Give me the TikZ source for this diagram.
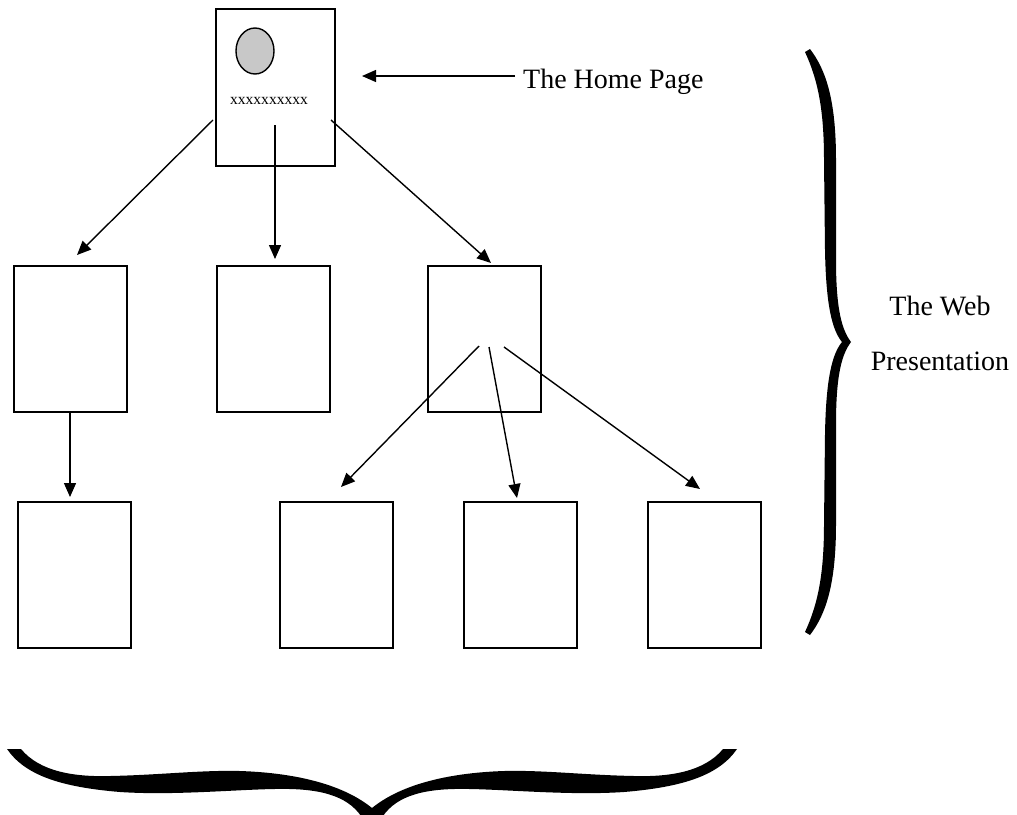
\documentclass[tikz,border=0pt]{standalone}
\usepackage{fontspec}
\setmainfont{Liberation Serif}
\usetikzlibrary{arrows.meta,shapes.geometric}
\definecolor{logogray}{RGB}{200,200,200}
\tikzset{
  page/.style={draw=black, line width=1.9pt, rectangle, inner sep=0pt,
    minimum width=113pt, minimum height=146pt},
  homepage/.style={page, minimum width=119pt, minimum height=157pt},
  arr/.style={draw=black, line width=1.4pt, -{Triangle[length=14pt,width=12pt]}},
  lbl/.style={inner sep=0pt, font=\fontsize{28}{34}\selectfont},
  bracefill/.style={fill=black, draw=none}
}
\begin{document}
\begin{tikzpicture}[x=1pt,y=-1pt]
\useasboundingbox (0,0) rectangle (1017,814);
\fill[white] (0,0) rectangle (1017,814);
\clip (0,0) rectangle (1017,814);

% pages
\node[homepage] (home) at (275.5,87.5) {};
\node[draw=black, line width=1.4pt, ellipse, fill=logogray, inner sep=0pt,
      minimum width=38pt, minimum height=46pt] (logo) at (255,51) {};
\node[inner sep=0pt, anchor=base, font=\fontsize{15.6}{18}\selectfont] (xs) at (269,104) {xxxxxxxxxx};

\node[page] (b1) at (70.5,339) {};
\node[page] (b2) at (273.5,339) {};
\node[page] (b3) at (484.5,339) {};

\node[page] (c1) at (74.5,575) {};
\node[page] (c2) at (336.5,575) {};
\node[page] (c3) at (520.5,575) {};
\node[page] (c4) at (704.5,575) {};

% labels
\node[lbl, anchor=base west] (hp) at (523,88) {The Home Page};
\node[lbl, anchor=base] (web1) at (940,315) {The Web};
\node[lbl, anchor=base] (web2) at (940,370) {Presentation};

% connectors
\draw[arr] ([shift={(-8,-12)}]hp.base west) -- ([shift={(86.5,-11.5)}]home.center);
\draw[arr] ([shift={(-62.5,32.5)}]home.center) -- ([shift={(6.5,-84)}]b1.center);
\draw[arr] ([shift={(-0.5,37.5)}]home.center) -- ([shift={(1.5,-80)}]b2.center);
\draw[arr] ([shift={(55.5,32.5)}]home.center) -- ([shift={(6.5,-76)}]b3.center);
\draw[arr] ([xshift=-0.5]b1.south) -- ([shift={(-4.5,-78)}]c1.center);
\draw[arr] ([shift={(-5.5,7)}]b3.center) -- ([shift={(4.5,-88)}]c2.center);
\draw[arr] ([shift={(4.5,8)}]b3.center) -- ([shift={(-3.5,-77)}]c3.center);
\draw[arr] ([shift={(19.5,8)}]b3.center) -- ([shift={(-4.5,-86)}]c4.center);

% right brace
\path[bracefill]
  (810,49) .. controls (826,70) and (836,100) .. (836,160)
  -- (836,260) .. controls (836,310) and (842,330) .. (851,342)
  .. controls (842,354) and (836,374) .. (836,424)
  -- (836,524) .. controls (836,584) and (826,614) .. (810,635)
  -- (805,632) .. controls (818,604) and (824,574) .. (824,524)
  -- (825,434) .. controls (826,379) and (832,354) .. (842,342)
  .. controls (832,330) and (826,305) .. (825,250)
  -- (824,160) .. controls (824,110) and (818,80) .. (805,52)
  -- cycle;

% bottom brace
\path[bracefill]
  (21,749) .. controls (40,772) and (75,777) .. (110,776)
  .. controls (160,775) and (200,770) .. (240,771)
  .. controls (300,773) and (345,786) .. (372,808)
  .. controls (399,786) and (444,773) .. (504,771)
  .. controls (544,770) and (584,775) .. (634,776)
  .. controls (669,777) and (704,772) .. (723,749)
  -- (737,749)
  .. controls (719,775) and (684,787) .. (624,792)
  .. controls (564,796) and (494,788) .. (454,789)
  .. controls (414,790) and (389,800) .. (378,825)
  -- (366,825)
  .. controls (355,800) and (330,790) .. (290,789)
  .. controls (250,788) and (180,796) .. (120,792)
  .. controls (60,787) and (25,775) .. (7,749)
  -- cycle;
\end{tikzpicture}
\end{document}
